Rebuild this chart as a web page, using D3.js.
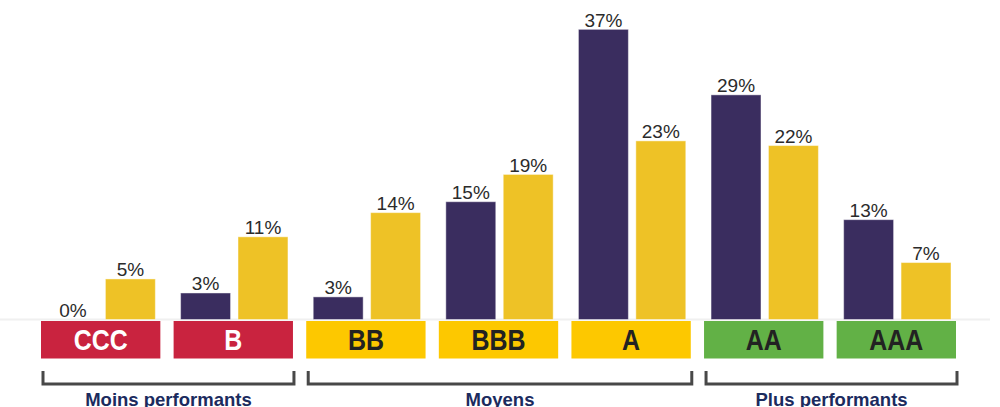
<!DOCTYPE html>
<html>
<head>
<meta charset="utf-8">
<script src="https://cdn.jsdelivr.net/npm/d3@7"></script>
<style>
  html, body { margin: 0; padding: 0; background: #fff; overflow: hidden; }
  svg { display: block; font-family: "Liberation Sans", Arial, sans-serif; }
</style>
</head>
<body>
<div id="chart"></div>
<script>
// Ratings and the two series (percent)
const ratings = ["CCC", "B", "BB", "BBB", "A", "AA", "AAA"];
const seriesDark = [0, 3.4, 2.9, 15.1, 37.2, 28.8, 12.8];
const seriesYellow = [5.2, 10.6, 13.7, 18.6, 22.9, 22.3, 7.3];
const ratingColors = ["#c9233f", "#c9233f", "#fdc800", "#fdc800", "#fdc800", "#62b146", "#62b146"];
const ratingTextColors = ["#ffffff", "#ffffff", "#222222", "#222222", "#222222", "#222222", "#222222"];

// Groups of ratings
const groupNames = ["Moins performants", "Moyens", "Plus performants"];
const groupFirst = ["CCC", "BB", "AA"];
const groupLast = ["B", "A", "AAA"];

const width = 1000, height = 407;
const baseline = 319.5;

const svg = d3.select("#chart")
    .append("svg")
    .attr("width", width)
    .attr("height", height);

// Scales
const x = d3.scaleBand()
    .domain(ratings)
    .range([41, 956])
    .paddingInner(0.1)
    .paddingOuter(0);

const x1 = d3.scaleBand()
    .domain(["dark", "yellow"])
    .range([7, x.bandwidth() - 5])
    .paddingInner(0.13);

const y = d3.scaleLinear()
    .domain([0, 40])
    .range([baseline, baseline - 312]);

// Faint baseline
svg.append("line")
    .attr("x1", 0)
    .attr("x2", 990)
    .attr("y1", baseline)
    .attr("y2", baseline)
    .attr("stroke", "#f0f0f0")
    .attr("stroke-width", 2);

const rows = ratings.map((r, i) => ({ rating: r, dark: seriesDark[i], yellow: seriesYellow[i] }));

const groups = svg.selectAll(".rating")
    .data(rows)
    .enter()
    .append("g")
    .attr("class", "rating")
    .attr("transform", d => `translate(${x(d.rating)},0)`);

const barColors = { dark: "#3a2d5f", yellow: "#eec226" };

// Bars
groups.selectAll("rect.bar")
    .data(d => ["dark", "yellow"].map(k => ({ key: k, value: d[k] })))
    .enter()
    .filter(d => d.value > 0)
    .append("rect")
    .attr("class", "bar")
    .attr("x", d => x1(d.key))
    .attr("y", d => y(d.value))
    .attr("width", x1.bandwidth())
    .attr("height", d => y(0) - y(d.value))
    .attr("fill", d => barColors[d.key])
    .attr("stroke", "rgba(255,255,255,0.45)")
    .attr("stroke-width", 1);

// Value labels
groups.selectAll("text.value")
    .data(d => ["dark", "yellow"].map(k => ({ key: k, value: d[k] })))
    .enter()
    .append("text")
    .attr("class", "value")
    .attr("x", d => x1(d.key) + x1.bandwidth() / 2)
    .attr("y", d => y(d.value) - 2.5)
    .attr("text-anchor", "middle")
    .style("font-size", "19px")
    .attr("fill", "#2b2b2b")
    .text(d => Math.round(d.value) + "%");

// Rating boxes
groups.append("rect")
    .attr("x", 0)
    .attr("y", 321)
    .attr("width", x.bandwidth())
    .attr("height", 37.5)
    .attr("fill", (d, i) => ratingColors[i]);

groups.append("text")
    .attr("transform", `translate(${x.bandwidth() / 2},349.5) scale(0.86,1)`)
    .attr("text-anchor", "middle")
    .style("font-size", "29px")
    .style("font-weight", "bold")
    .attr("fill", (d, i) => ratingTextColors[i])
    .text(d => d.rating);

// Brackets and group labels
groupNames.forEach((name, i) => {
    const x0 = x(groupFirst[i]) + 2;
    const x2 = x(groupLast[i]) + x.bandwidth() + 1;
    svg.append("path")
        .attr("d", `M${x0},371 V384 H${x2} V371`)
        .attr("fill", "none")
        .attr("stroke", "#484848")
        .attr("stroke-width", 3);
    svg.append("text")
        .attr("x", (x0 + x2) / 2)
        .attr("y", 405.5)
        .attr("text-anchor", "middle")
        .style("font-size", "18.5px")
        .style("font-weight", "bold")
        .attr("fill", "#1b2b5e")
        .text(name);
});
</script>
</body>
</html>
